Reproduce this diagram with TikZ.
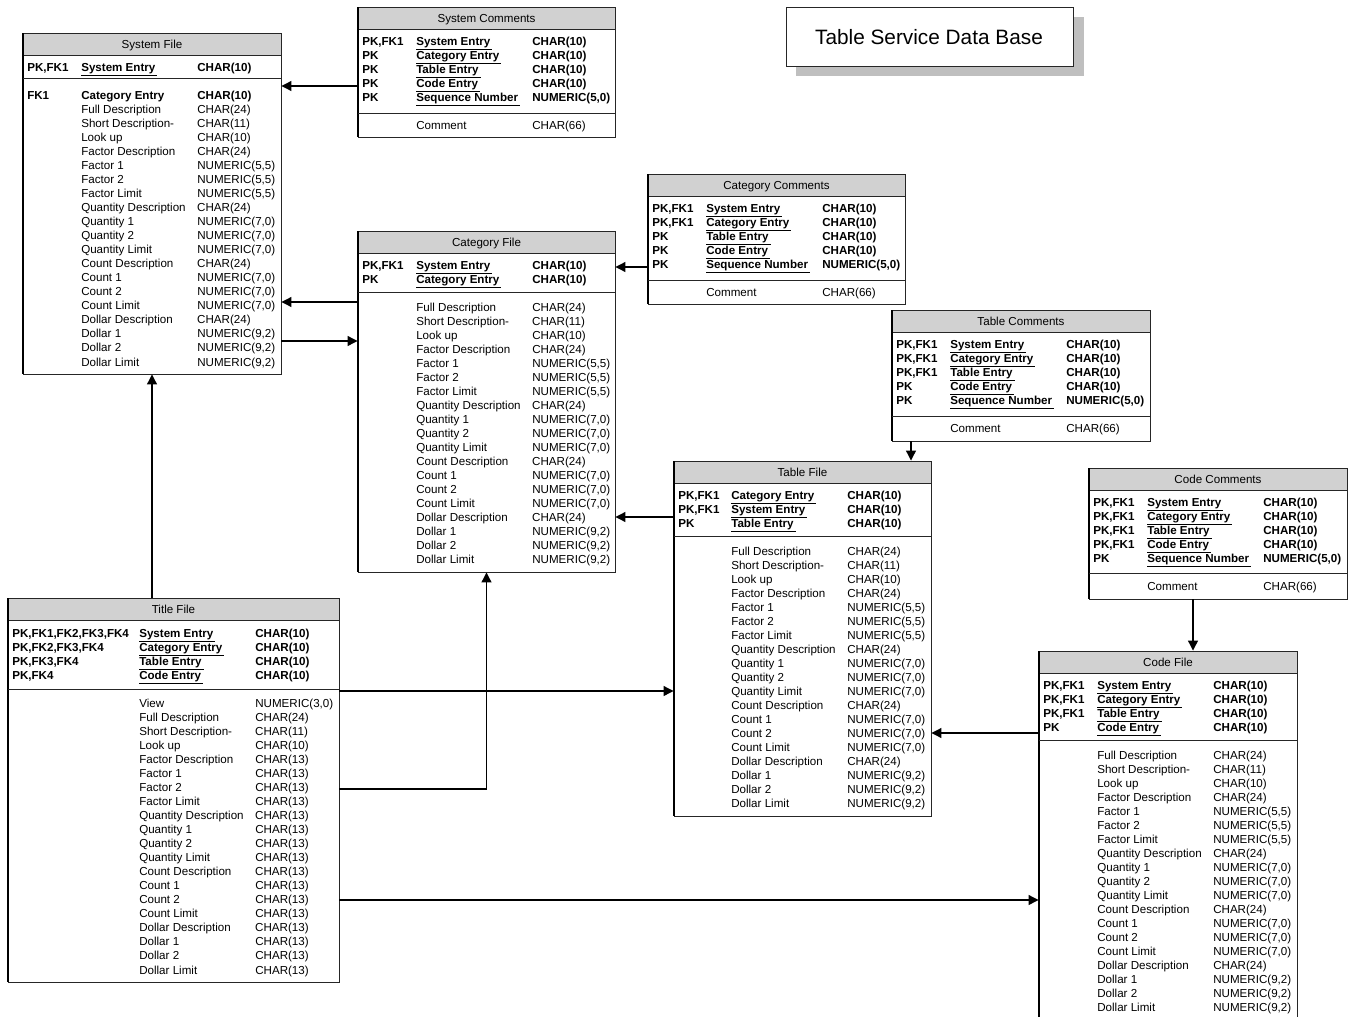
\documentclass[tikz,border=0pt]{standalone}
\usepackage{fontspec}
\setmainfont{Liberation Sans}
\usetikzlibrary{fit,arrows.meta}
\newcommand\pkrow[3]{\textbf{#1}&\textbf{\smash{\underline{#2\hspace{1.5pt}}}}&\textbf{#3}\\}
\newcommand\fkrow[3]{\textbf{#1}&\textbf{#2}&\textbf{#3}\\}
\newcommand\atrow[2]{&#1&#2\\}
\newcommand\ertab[2][40.5pt]{\begin{tabular}[t]{@{}p{#1}@{}p{87pt}@{}l@{}}#2\end{tabular}}
\newcommand\stdattrs{%
\atrow{Full Description}{CHAR(24)}
\atrow{Short Description-}{CHAR(11)}
\atrow{Look up}{CHAR(10)}
\atrow{Factor Description}{CHAR(24)}
\atrow{Factor 1}{NUMERIC(5,5)}
\atrow{Factor 2}{NUMERIC(5,5)}
\atrow{Factor Limit}{NUMERIC(5,5)}
\atrow{Quantity Description}{CHAR(24)}
\atrow{Quantity 1}{NUMERIC(7,0)}
\atrow{Quantity 2}{NUMERIC(7,0)}
\atrow{Quantity Limit}{NUMERIC(7,0)}
\atrow{Count Description}{CHAR(24)}
\atrow{Count 1}{NUMERIC(7,0)}
\atrow{Count 2}{NUMERIC(7,0)}
\atrow{Count Limit}{NUMERIC(7,0)}
\atrow{Dollar Description}{CHAR(24)}
\atrow{Dollar 1}{NUMERIC(9,2)}
\atrow{Dollar 2}{NUMERIC(9,2)}
\atrow{Dollar Limit}{NUMERIC(9,2)}}
\tikzset{
  tbl/.style={draw=black!85, line width=0.7pt, inner sep=0pt},
  hdr/.style={fill=black!18},
  sepline/.style={draw=black!85, line width=0.7pt},
  ttl/.style={font=\fontsize{8.7}{10.54}\selectfont, inner sep=0pt, anchor=base},
  rows/.style={font=\fontsize{8.7}{10.54}\selectfont, inner sep=0pt, anchor=base west},
  ledge/.style={line width=1.6pt, black},
  conn/.style={line width=0.9pt, -{Triangle[length=7.5pt,width=7.5pt]}},
}
% name, xl, yt, xr, yb, title
\newcommand\tablebox[6]{%
  \fill[hdr] (#2,#3) rectangle (#4,#3+22);
  \node[tbl, fit={(#2,#3) (#4,#5)}] (#1) {};
  \draw[sepline] (#2,#3+22) -- (#4,#3+22);
  \node[ttl] (#1-title) at ({(#2+#4)/2},#3+15) {#6};
  \draw[ledge] (#2,#3) -- (#2,#5);
}
\begin{document}
\begin{tikzpicture}[x=0.75pt,y=-0.75pt]
\useasboundingbox (0,0) rectangle (1353,1017);
\clip (0,0) rectangle (1353,1017);
\fill[white] (0,0) rectangle (1353,1017);

% ---------- title box ----------
\fill[black!25] (796,17) rectangle (1084,76);
\node[draw=black!85, fill=white, line width=0.7pt, inner sep=0pt, fit={(786,7) (1073,66)}] (dbbox) {};
\node[font=\fontsize{15.6}{18}\selectfont, inner sep=0pt] (dbtitle) at (929,37) {Table Service Data Base};

% ---------- System File ----------
\tablebox{sysfile}{23}{33}{281}{374}{System File}
\draw[sepline] (23,78) -- (281,78);
\node[rows] (sysfile-pk) at (27,71) {\ertab{\pkrow{PK,FK1}{System Entry}{CHAR(10)}}};
\node[rows] (sysfile-at) at (27,99) {\ertab{\fkrow{FK1}{Category Entry}{CHAR(10)}\stdattrs}};

% ---------- System Comments ----------
\tablebox{syscom}{358}{7}{615}{137}{System Comments}
\draw[sepline] (358,113) -- (615,113);
\node[rows] (syscom-pk) at (362,45) {\ertab{%
\pkrow{PK,FK1}{System Entry}{CHAR(10)}
\pkrow{PK}{Category Entry}{CHAR(10)}
\pkrow{PK}{Table Entry}{CHAR(10)}
\pkrow{PK}{Code Entry}{CHAR(10)}
\pkrow{PK}{Sequence Number}{NUMERIC(5,0)}}};
\node[rows] (syscom-at) at (362,129) {\ertab{\atrow{Comment}{CHAR(66)}}};

% ---------- Category File ----------
\tablebox{catfile}{358}{231}{615}{572}{Category File}
\draw[sepline] (358,292) -- (615,292);
\node[rows] (catfile-pk) at (362,269) {\ertab{%
\pkrow{PK,FK1}{System Entry}{CHAR(10)}
\pkrow{PK}{Category Entry}{CHAR(10)}}};
\node[rows] (catfile-at) at (362,311) {\ertab{\stdattrs}};

% ---------- Category Comments ----------
\tablebox{catcom}{648}{174}{905}{304}{Category Comments}
\draw[sepline] (648,280) -- (905,280);
\node[rows] (catcom-pk) at (652,212) {\ertab{%
\pkrow{PK,FK1}{System Entry}{CHAR(10)}
\pkrow{PK,FK1}{Category Entry}{CHAR(10)}
\pkrow{PK}{Table Entry}{CHAR(10)}
\pkrow{PK}{Code Entry}{CHAR(10)}
\pkrow{PK}{Sequence Number}{NUMERIC(5,0)}}};
\node[rows] (catcom-at) at (652,296) {\ertab{\atrow{Comment}{CHAR(66)}}};

% ---------- Table Comments ----------
\tablebox{tabcom}{892}{310}{1150}{441}{Table Comments}
\draw[sepline] (892,416) -- (1150,416);
\node[rows] (tabcom-pk) at (896,348) {\ertab{%
\pkrow{PK,FK1}{System Entry}{CHAR(10)}
\pkrow{PK,FK1}{Category Entry}{CHAR(10)}
\pkrow{PK,FK1}{Table Entry}{CHAR(10)}
\pkrow{PK}{Code Entry}{CHAR(10)}
\pkrow{PK}{Sequence Number}{NUMERIC(5,0)}}};
\node[rows] (tabcom-at) at (896,432) {\ertab{\atrow{Comment}{CHAR(66)}}};

% ---------- Table File ----------
\tablebox{tabfile}{674}{461}{931}{816}{Table File}
\draw[sepline] (674,536) -- (931,536);
\node[rows] (tabfile-pk) at (678,499) {\ertab[39.75pt]{%
\pkrow{PK,FK1}{Category Entry}{CHAR(10)}
\pkrow{PK,FK1}{System Entry}{CHAR(10)}
\pkrow{PK}{Table Entry}{CHAR(10)}}};
\node[rows] (tabfile-at) at (678,555) {\ertab[39.75pt]{\stdattrs}};

% ---------- Code Comments ----------
\tablebox{codecom}{1089}{468}{1347}{599}{Code Comments}
\draw[sepline] (1089,573) -- (1347,573);
\node[rows] (codecom-pk) at (1093,506) {\ertab{%
\pkrow{PK,FK1}{System Entry}{CHAR(10)}
\pkrow{PK,FK1}{Category Entry}{CHAR(10)}
\pkrow{PK,FK1}{Table Entry}{CHAR(10)}
\pkrow{PK,FK1}{Code Entry}{CHAR(10)}
\pkrow{PK}{Sequence Number}{NUMERIC(5,0)}}};
\node[rows] (codecom-at) at (1093,590) {\ertab{\atrow{Comment}{CHAR(66)}}};

% ---------- Code File ----------
\tablebox{codefile}{1039}{651}{1297}{1040}{Code File}
\draw[sepline] (1039,740) -- (1297,740);
\node[rows] (codefile-pk) at (1043,689) {\ertab{%
\pkrow{PK,FK1}{System Entry}{CHAR(10)}
\pkrow{PK,FK1}{Category Entry}{CHAR(10)}
\pkrow{PK,FK1}{Table Entry}{CHAR(10)}
\pkrow{PK}{Code Entry}{CHAR(10)}}};
\node[rows] (codefile-at) at (1043,759) {\ertab{\stdattrs}};

% ---------- Title File ----------
\tablebox{titlefile}{8}{598}{339}{982}{Title File}
\draw[sepline] (8,689) -- (339,689);
\node[rows] (titlefile-pk) at (12,637) {\ertab[95.25pt]{%
\pkrow{PK,FK1,FK2,FK3,FK4}{System Entry}{CHAR(10)}
\pkrow{PK,FK2,FK3,FK4}{Category Entry}{CHAR(10)}
\pkrow{PK,FK3,FK4}{Table Entry}{CHAR(10)}
\pkrow{PK,FK4}{Code Entry}{CHAR(10)}}};
\node[rows] (titlefile-at) at (12,707) {\ertab[95.25pt]{%
\atrow{View}{NUMERIC(3,0)}
\atrow{Full Description}{CHAR(24)}
\atrow{Short Description-}{CHAR(11)}
\atrow{Look up}{CHAR(10)}
\atrow{Factor Description}{CHAR(13)}
\atrow{Factor 1}{CHAR(13)}
\atrow{Factor 2}{CHAR(13)}
\atrow{Factor Limit}{CHAR(13)}
\atrow{Quantity Description}{CHAR(13)}
\atrow{Quantity 1}{CHAR(13)}
\atrow{Quantity 2}{CHAR(13)}
\atrow{Quantity Limit}{CHAR(13)}
\atrow{Count Description}{CHAR(13)}
\atrow{Count 1}{CHAR(13)}
\atrow{Count 2}{CHAR(13)}
\atrow{Count Limit}{CHAR(13)}
\atrow{Dollar Description}{CHAR(13)}
\atrow{Dollar 1}{CHAR(13)}
\atrow{Dollar 2}{CHAR(13)}
\atrow{Dollar Limit}{CHAR(13)}}};

% ---------- helper coordinates ----------
\coordinate (h86) at (0,86);
\coordinate (h267) at (0,267);
\coordinate (h302) at (0,302);
\coordinate (h341) at (0,341);
\coordinate (h517) at (0,517);
\coordinate (h691) at (0,691);
\coordinate (h733) at (0,733);
\coordinate (h789) at (0,789);
\coordinate (h900) at (0,900);
\coordinate (v911) at (911,0);
\coordinate (v1193) at (1193,0);

% ---------- connectors ----------
\draw[conn] (syscom.west |- h86) -- (sysfile.east |- h86);
\draw[conn] (catfile.west |- h302) -- (sysfile.east |- h302);
\draw[conn] (sysfile.east |- h341) -- (catfile.west |- h341);
\draw[conn] (titlefile.north -| sysfile.south) -- (sysfile.south);
\draw[conn] (catcom.west |- h267) -- (catfile.east |- h267);
\draw[conn] (tabfile.west |- h517) -- (catfile.east |- h517);
\draw[conn] (titlefile.east |- h789) -| (catfile.south);
\draw[conn] (titlefile.east |- h691) -- (tabfile.west |- h691);
\draw[conn] (tabcom.south -| v911) -- (tabfile.north -| v911);
\draw[conn] (codefile.west |- h733) -- (tabfile.east |- h733);
\draw[conn] (codecom.south -| v1193) -- (codefile.north -| v1193);
\draw[conn] (titlefile.east |- h900) -- (codefile.west |- h900);
\end{tikzpicture}
\end{document}
